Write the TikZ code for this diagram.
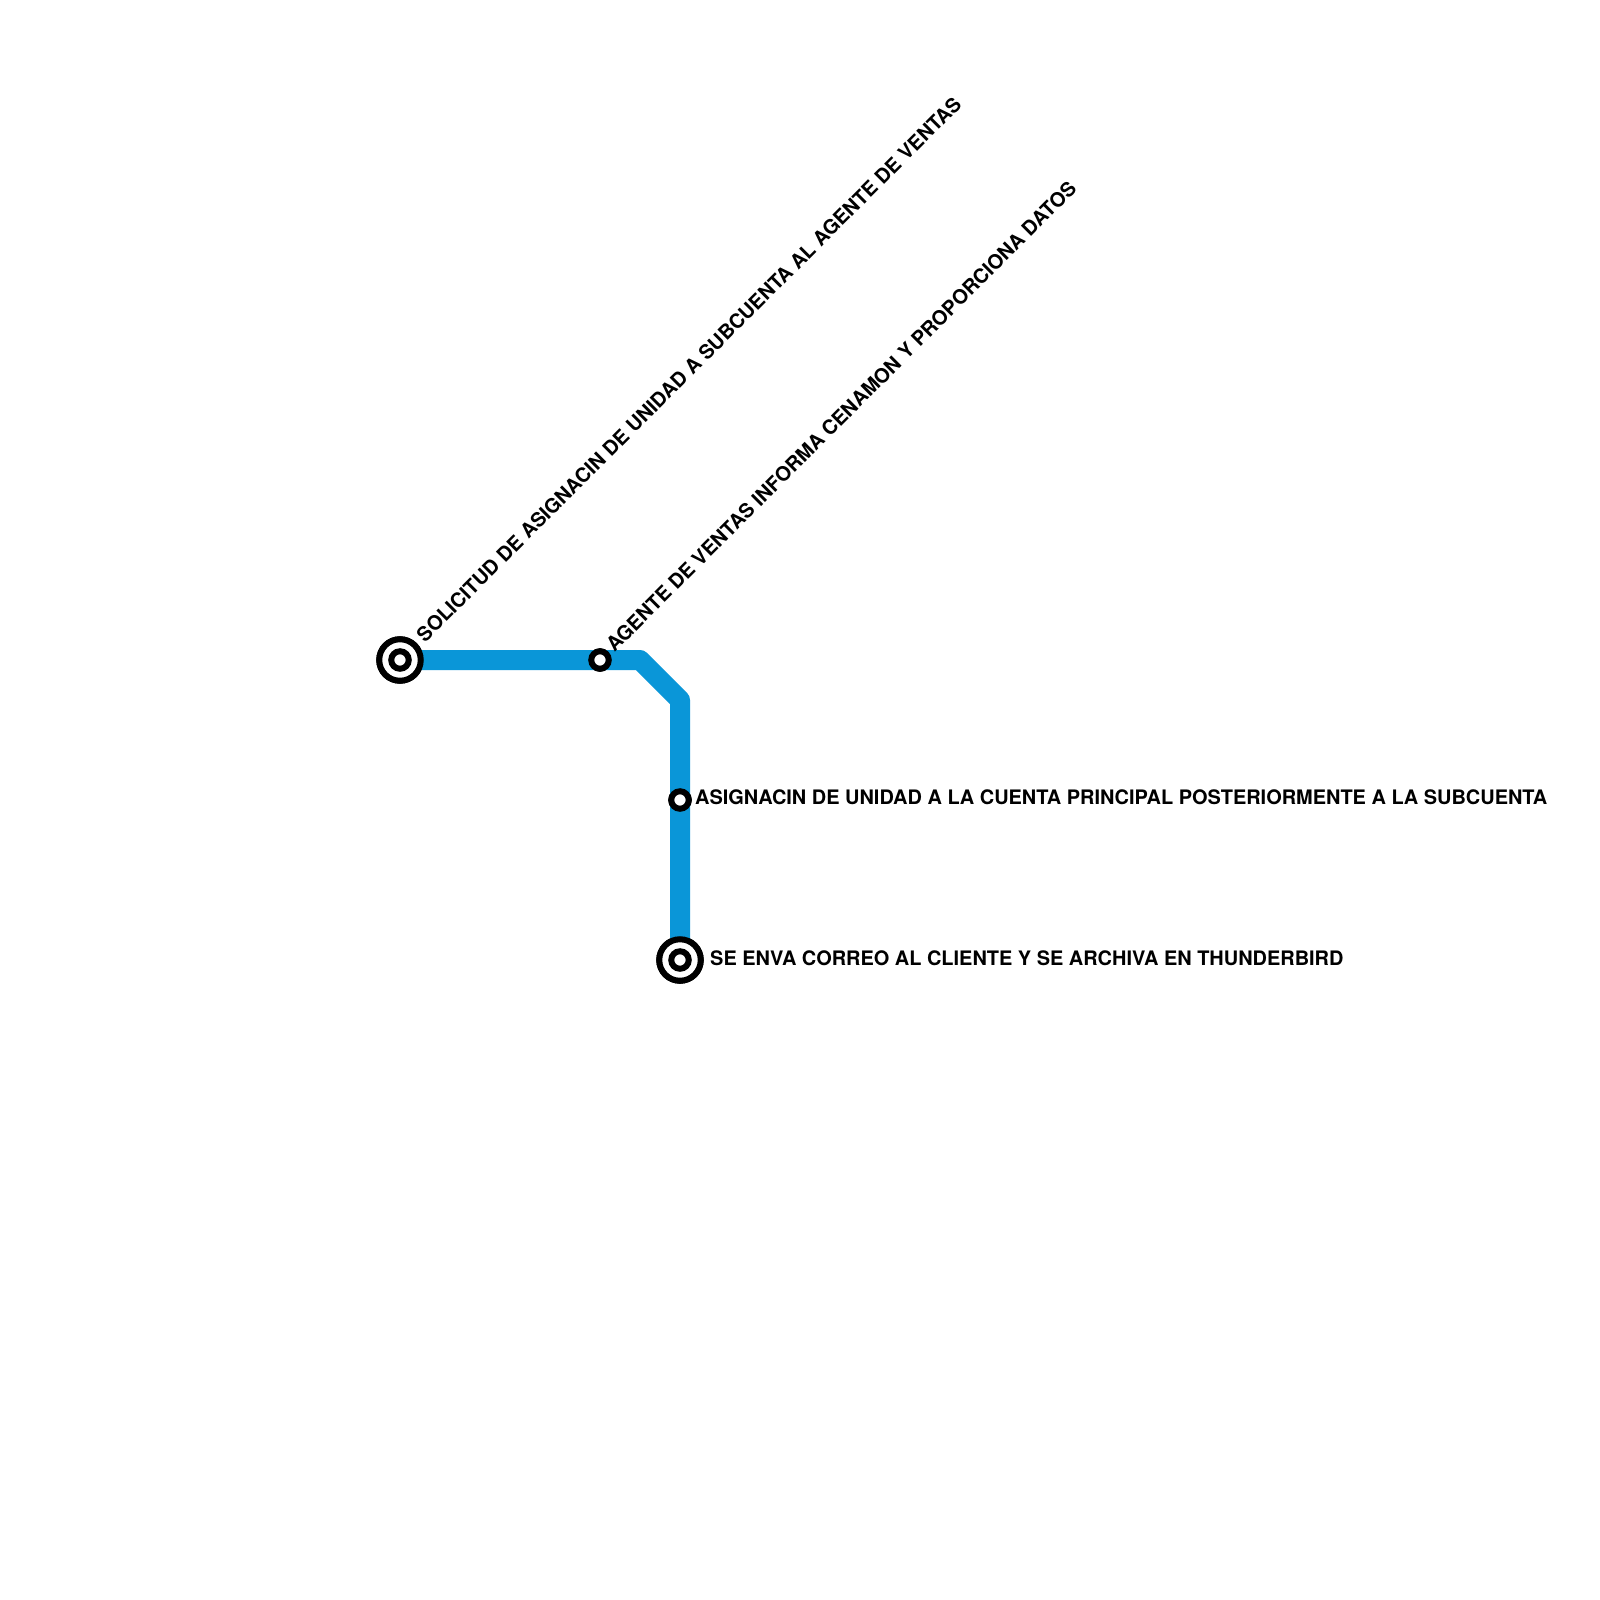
\documentclass[tikz,border=0pt]{standalone}
\usepackage{fontspec}
\setmainfont{TeX Gyre Heros}
\definecolor{linec}{HTML}{0A96D8}
\tikzset{
 route/.style={draw=linec,line width=20pt,line join=round},
 lbl/.style={font=\bfseries\fontsize{19.95}{23}\selectfont,text=black,inner sep=0pt,anchor=base west},
 ringbig/.style={circle,draw=black,line width=6pt,fill=white,outer sep=0pt,minimum size=41.5pt,inner sep=0pt},
 ringsmall/.style={circle,draw=black,line width=6pt,fill=white,outer sep=0pt,minimum size=17.5pt,inner sep=0pt},
}
\begin{document}
\begin{tikzpicture}[x=1pt,y=-1pt]
\fill[white] (0,0) rectangle (1600,1600);
\useasboundingbox (0,0) rectangle (1600,1600);
\coordinate (bend1) at (640,660);
\coordinate (bend2) at (680,700);
\node[ringbig] (s1) at (400,660) {};
\node[ringsmall] (s2) at (600,660) {};
\node[ringsmall] (s3) at (680,800) {};
\node[ringbig] (s4) at (680,960) {};
\draw[route] (s1.center) -- (bend1) -- (bend2) -- (s4.center);
\node[ringbig] (s1b) at (s1) {};
\node[ringsmall] (s1c) at (s1) {};
\node[ringsmall] (s2b) at (s2) {};
\node[ringsmall] (s3b) at (s3) {};
\node[ringbig] (s4b) at (s4) {};
\node[ringsmall] (s4c) at (s4) {};
\node[lbl,rotate=45] (t1) at (425,643.5) {SOLICITUD DE ASIGNACIN DE UNIDAD A SUBCUENTA AL AGENTE DE VENTAS};
\node[lbl,rotate=45] (t2) at (614.5,653) {AGENTE DE VENTAS INFORMA CENAMON Y PROPORCIONA DATOS};
\node[lbl] (t3) at (695,804.5) {ASIGNACIN DE UNIDAD A LA CUENTA PRINCIPAL POSTERIORMENTE A LA SUBCUENTA};
\node[lbl] (t4) at (710,965) {SE ENVA CORREO AL CLIENTE Y SE ARCHIVA EN THUNDERBIRD};
\end{tikzpicture}
\end{document}
